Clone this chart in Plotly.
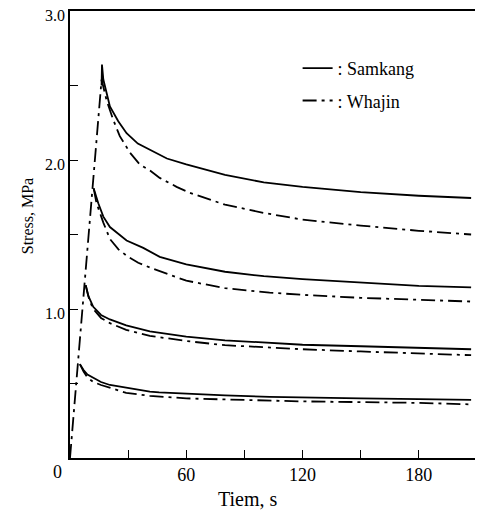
import plotly.graph_objects as go

# ---- data (time in s, stress in MPa) ----
samkang_t = [
    [5.1, 7, 9, 12, 16, 20.6, 29, 41.2, 46, 60, 80, 103, 120, 150, 180, 207],
    [8.1, 9.4, 12, 16, 20.6, 29, 41.2, 46, 60, 80, 103, 120, 150, 180, 207],
    [12.2, 14.6, 17.2, 20.6, 29.2, 37.8, 46.3, 60, 80, 100, 120, 150, 180, 207],
    [16.3, 16.5, 17.2, 18.9, 20.6, 24.9, 29.2, 35, 41.2, 50, 60, 80, 100, 120, 150, 180, 207],
]
samkang_s = [
    [0.63, 0.59, 0.56, 0.54, 0.51, 0.49, 0.47, 0.445, 0.44, 0.43, 0.42, 0.41, 0.405, 0.40, 0.395, 0.39],
    [1.16, 1.09, 1.015, 0.96, 0.93, 0.89, 0.85, 0.84, 0.815, 0.79, 0.77, 0.76, 0.75, 0.74, 0.73],
    [1.81, 1.71, 1.62, 1.55, 1.46, 1.41, 1.35, 1.30, 1.25, 1.22, 1.20, 1.175, 1.155, 1.145],
    [2.50, 2.64, 2.54, 2.44, 2.36, 2.26, 2.18, 2.11, 2.07, 2.01, 1.97, 1.90, 1.85, 1.82, 1.785, 1.76, 1.745],
]
whajin_t = [
    [5.1, 7, 9, 12, 16, 20.6, 29, 41.2, 60, 80, 103, 120, 150, 180, 207],
    [8.1, 10, 12, 16, 20.6, 29, 41.2, 46, 60, 80, 103, 120, 150, 180, 207],
    [12.2, 13.7, 17.2, 20.6, 25, 30, 35.2, 42.9, 60, 80, 103, 120, 150, 180, 207],
    [0, 16.3, 18.9, 22.3, 25.7, 30.9, 36, 41.2, 46.3, 55, 61.8, 80, 100, 120, 150, 180, 207],
]
whajin_s = [
    [0.63, 0.58, 0.54, 0.51, 0.49, 0.47, 0.437, 0.417, 0.40, 0.393, 0.385, 0.38, 0.375, 0.37, 0.36],
    [1.16, 1.06, 1.00, 0.94, 0.905, 0.86, 0.82, 0.81, 0.785, 0.757, 0.74, 0.73, 0.715, 0.70, 0.69],
    [1.81, 1.71, 1.58, 1.47, 1.40, 1.35, 1.31, 1.27, 1.19, 1.14, 1.11, 1.095, 1.075, 1.06, 1.05],
    [0, 2.54, 2.40, 2.27, 2.16, 2.05, 1.97, 1.93, 1.88, 1.82, 1.78, 1.70, 1.645, 1.60, 1.56, 1.525, 1.50],
]
x_tickvals = [30, 60, 90, 120, 150, 180]
x_ticktext = ["", "60", "", "120", "", "180"]
y_tickvals = [0.5, 1.0, 1.5, 2.0, 2.5, 3.0]
y_ticktext = ["", "1.0", "", "2.0", "", "3.0"]

SERIF = "Liberation Serif, Times New Roman, serif"

fig = go.Figure()
for i, (t, s) in enumerate(zip(samkang_t, samkang_s)):
    fig.add_trace(go.Scatter(x=t, y=s, mode="lines", name=": Samkang",
                             legendgroup="s", showlegend=(i == 0),
                             line=dict(color="black", width=1.8)))
for i, (t, s) in enumerate(zip(whajin_t, whajin_s)):
    fig.add_trace(go.Scatter(x=t, y=s, mode="lines", name=": Whajin",
                             legendgroup="w", showlegend=(i == 0),
                             line=dict(color="black", width=1.8, dash="14px,5px,3px,5px")))

axis_common = dict(showline=True, linecolor="black", linewidth=1.6, mirror=True,
                   ticks="inside", ticklen=8, tickwidth=1.4, tickcolor="black",
                   showgrid=False, zeroline=False, automargin=False,
                   ticklabeloverflow="allow")

# page body has an 8px default margin; the figure is offset by it
fig.update_layout(
    width=475, height=504,
    margin=dict(l=62, r=8, t=3, b=54),
    paper_bgcolor="white", plot_bgcolor="white",
    font=dict(family=SERIF, color="black"),
    xaxis=dict(range=[0, 209], tickvals=x_tickvals, ticktext=x_ticktext,
               tickfont=dict(size=18, family=SERIF), **axis_common),
    yaxis=dict(range=[0, 3.0], tickvals=y_tickvals, ticktext=y_ticktext,
               tickfont=dict(size=16, family=SERIF), ticklabelshift=4,
               **axis_common),
    legend=dict(x=0.562, y=0.913, xanchor="left", yanchor="top",
                font=dict(size=18, family=SERIF), bgcolor="rgba(0,0,0,0)",
                traceorder="grouped", tracegroupgap=6),
    annotations=[
        dict(text="Tiem, s", xref="paper", yref="paper", x=0.44, y=-0.0917,
             xanchor="center", yanchor="middle", showarrow=False,
             font=dict(size=20, family=SERIF)),
        dict(text="Stress, MPa", xref="paper", yref="paper", x=-0.106, y=0.541,
             xanchor="center", yanchor="middle", textangle=-90, showarrow=False,
             font=dict(size=16, family=SERIF)),
        dict(text="0", xref="paper", yref="paper", x=-0.031, y=-0.031,
             xanchor="center", yanchor="middle", showarrow=False,
             font=dict(size=18, family=SERIF)),
    ],
)

fig.write_html("out.html")
